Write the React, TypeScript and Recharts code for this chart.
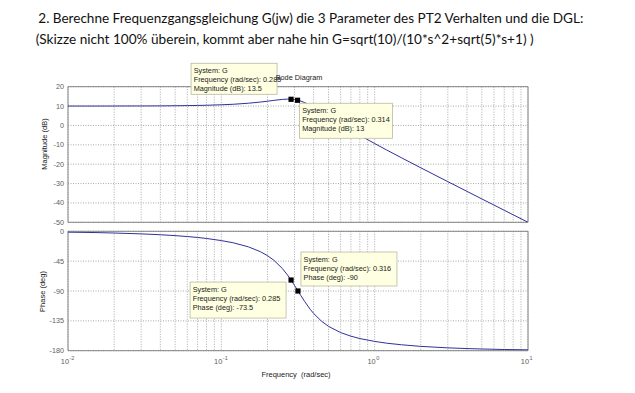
import React from 'react';
import {
  LineChart,
  Line,
  XAxis,
  YAxis,
  CartesianGrid,
  ReferenceArea,
  ReferenceDot,
} from 'recharts';

// ---- data ----
const titleLine1 =
  '2. Berechne Frequenzgangsgleichung G(jw) die 3 Parameter des PT2 Verhalten und die DGL:';
const titleLine2 =
  '(Skizze nicht 100% überein, kommt aber nahe hin G=sqrt(10)/(10*s^2+sqrt(5)*s+1) )';

const freqs = [
  0.01, 0.015, 0.02, 0.03, 0.04, 0.05, 0.06, 0.07, 0.08, 0.1, 0.12, 0.15, 0.18, 0.2, 0.22,
  0.25, 0.27, 0.285, 0.3, 0.314, 0.316, 0.33, 0.35, 0.38, 0.4, 0.45, 0.5, 0.6, 0.7, 0.8, 1,
  1.2, 1.5, 2, 3, 4, 5, 7, 10,
];
const magnitudeDb = [
  10.01, 10.01, 10.03, 10.06, 10.1, 10.16, 10.24, 10.32, 10.42, 10.66, 10.94, 11.47, 12.08,
  12.52, 12.94, 13.44, 13.59, 13.55, 13.37, 13.07, 13.02, 12.58, 11.78, 10.37, 9.36, 6.86,
  4.56, 0.68, -2.47, -5.1, -9.34, -12.71, -16.75, -21.88, -29.01, -34.04, -37.93, -43.79,
  -49.99,
];
const phaseDeg = [
  -1.3, -1.9, -2.6, -3.9, -5.2, -6.5, -7.9, -9.3, -10.8, -14.0, -17.4, -23.4, -30.8, -36.7,
  -43.6, -56.1, -65.8, -73.5, -81.5, -88.8, -90.0, -96.9, -106.0, -117.6, -123.9, -135.5,
  -143.3, -152.7, -158.1, -161.7, -166.0, -168.7, -171.1, -173.5, -175.7, -176.8, -177.4,
  -178.2, -178.7,
];

const majorFreqs = [0.01, 0.1, 1, 10];
const gridFreqs = [
  0.01, 0.02, 0.03, 0.04, 0.05, 0.06, 0.07, 0.08, 0.09, 0.1, 0.2, 0.3, 0.4, 0.5, 0.6, 0.7,
  0.8, 0.9, 1, 2, 3, 4, 5, 6, 7, 8, 9, 10,
];
const magTicks = [-50, -40, -30, -20, -10, 0, 10, 20];
const phaseTicks = [-180, -135, -90, -45, 0];

// data tips: frequency, value, text lines
const magTipFreqs = [0.285, 0.314];
const magTipValues = [13.5, 13];
const magTipTexts = [
  ['System: G', 'Frequency (rad/sec): 0.285', 'Magnitude (dB): 13.5'],
  ['System: G', 'Frequency (rad/sec): 0.314', 'Magnitude (dB): 13'],
];
const phaseTipFreqs = [0.285, 0.316];
const phaseTipValues = [-73.5, -90];
const phaseTipTexts = [
  ['System: G', 'Frequency (rad/sec): 0.285', 'Phase (deg): -73.5'],
  ['System: G', 'Frequency (rad/sec): 0.316', 'Phase (deg): -90'],
];

// box placement relative to marker (layout only)
const magTipBoxes = [
  { dx: -100, dy: -36, w: 86, h: 31 },
  { dx: 2, dy: 3, w: 93, h: 35 },
];
const phaseTipBoxes = [
  { dx: -101, dy: 2, w: 96, h: 36 },
  { dx: 3, dy: -39, w: 96, h: 34 },
];

const data = freqs.map((f, i) => ({ f, mag: magnitudeDb[i], phase: phaseDeg[i] }));

const SANS = 'Liberation Sans, Arial, sans-serif';
const LINE_COLOR = '#30309c';
const GRID_COLOR = '#a9a9a9';
const FRAME_COLOR = '#7a7a7a';
const TICK_COLOR = '#5e5e5e';

const YTick = (props: any) => {
  const { x, y, payload } = props;
  return (
    <text x={x} y={y} dy={2.5} textAnchor="end" fontSize={7.2} fill={TICK_COLOR} fontFamily={SANS}>
      {payload.value}
    </text>
  );
};

const EmptyTick = () => <g />;

const FreqTick = (props: any) => {
  const { x, y, payload } = props;
  const v = payload.value;
  if (!majorFreqs.some((m) => Math.abs(m - v) < 1e-9)) return <g />;
  const exp = Math.round(Math.log10(v));
  return (
    <g fontFamily={SANS} fill={TICK_COLOR}>
      <text x={x + 1} y={y + 13.5} textAnchor="end" fontSize={7.4}>
        10
      </text>
      <text x={x + 1.5} y={y + 9.5} textAnchor="start" fontSize={5.5}>
        {exp}
      </text>
    </g>
  );
};

const makeTip = (lines: string[], box: { dx: number; dy: number; w: number; h: number }) => (
  props: any
) => {
  const { cx, cy } = props;
  const bx = cx + box.dx;
  const by = cy + box.dy;
  return (
    <g>
      <rect x={bx} y={by} width={box.w} height={box.h} fill="#ffffe1" stroke="#b9b9a0" strokeWidth={0.8} />
      {lines.map((t, i) => (
        <text
          key={i}
          x={bx + 2.6}
          y={by + 9.6 + i * 9.3}
          fontSize={7.3}
          fill="#222"
          fontFamily={SANS}
        >
          {t}
        </text>
      ))}
      <rect x={cx - 2.6} y={cy - 2.6} width={5.2} height={5.2} fill="#000" />
    </g>
  );
};

export default function App() {
  return (
    <div
      style={{
        position: 'absolute',
        left: 0,
        top: 0,
        width: 635,
        height: 393,
        background: '#fff',
        overflow: 'hidden',
      }}
    >
      <svg width={635} height={60} style={{ position: 'absolute', left: 0, top: 0 }}>
        <text
          x={38.3}
          y={22.7}
          fontSize={13.5}
          fontFamily="Lato, 'Open Sans', sans-serif"
          fill="#111"
          textLength={545}
          lengthAdjust="spacingAndGlyphs"
        >
          {titleLine1}
        </text>
        <text
          x={35.7}
          y={44.3}
          fontSize={13.5}
          fontFamily="Lato, 'Open Sans', sans-serif"
          fill="#111"
          textLength={498}
          lengthAdjust="spacingAndGlyphs"
        >
          {titleLine2}
        </text>
      </svg>

      <div style={{ position: 'absolute', left: 0, top: 0 }}>
        <LineChart
          width={635}
          height={232}
          data={data}
          margin={{ top: 86.7, right: 107, bottom: 9.7, left: 38 }}
        >
          <CartesianGrid stroke={GRID_COLOR} strokeDasharray="1 1.5" />
          <XAxis
            dataKey="f"
            type="number"
            scale="log"
            domain={[0.01, 10]}
            ticks={gridFreqs}
            interval={0}
            allowDataOverflow
            height={0}
            axisLine={false}
            tickLine={false}
            tick={<EmptyTick />}
          />
          <YAxis
            type="number"
            domain={[-50, 20]}
            ticks={magTicks}
            interval={0}
            allowDataOverflow
            width={30}
            axisLine={false}
            tickLine={false}
            tickSize={2}
            tickMargin={2}
            tick={<YTick />}
          />
          <ReferenceArea
            x1={0.01}
            x2={10}
            y1={-50}
            y2={20}
            fill="none"
            stroke={FRAME_COLOR}
            strokeWidth={0.9}
          />
          <Line
            dataKey="mag"
            stroke={LINE_COLOR}
            strokeWidth={1}
            dot={false}
            isAnimationActive={false}
            type="linear"
          />
          {magTipFreqs.map((f, i) => (
            <ReferenceDot
              key={i}
              x={f}
              y={magTipValues[i]}
              r={3}
              shape={makeTip(magTipTexts[i], magTipBoxes[i])}
            />
          ))}
        </LineChart>
      </div>

      <div style={{ position: 'absolute', left: 0, top: 225 }}>
        <LineChart
          width={635}
          height={168}
          data={data}
          margin={{ top: 6.3, right: 107, bottom: 17.3, left: 38 }}
        >
          <CartesianGrid stroke={GRID_COLOR} strokeDasharray="1 1.5" />
          <XAxis
            dataKey="f"
            type="number"
            scale="log"
            domain={[0.01, 10]}
            ticks={gridFreqs}
            interval={0}
            allowDataOverflow
            height={25}
            axisLine={false}
            tickLine={false}
            tickSize={0}
            tickMargin={0}
            tick={<FreqTick />}
          />
          <YAxis
            type="number"
            domain={[-180, 0]}
            ticks={phaseTicks}
            interval={0}
            allowDataOverflow
            width={30}
            axisLine={false}
            tickLine={false}
            tickSize={2}
            tickMargin={2}
            tick={<YTick />}
          />
          <ReferenceArea
            x1={0.01}
            x2={10}
            y1={-180}
            y2={0}
            fill="none"
            stroke={FRAME_COLOR}
            strokeWidth={0.9}
          />
          <Line
            dataKey="phase"
            stroke={LINE_COLOR}
            strokeWidth={1}
            dot={false}
            isAnimationActive={false}
            type="linear"
          />
          {phaseTipFreqs.map((f, i) => (
            <ReferenceDot
              key={i}
              x={f}
              y={phaseTipValues[i]}
              r={3}
              shape={makeTip(phaseTipTexts[i], phaseTipBoxes[i])}
            />
          ))}
        </LineChart>
      </div>

      <svg
        width={635}
        height={393}
        style={{ position: 'absolute', left: 0, top: 0, pointerEvents: 'none' }}
      >
        <text x={299} y={80} textAnchor="middle" fontSize={7.3} fill="#222" fontFamily={SANS}>
          Bode Diagram
        </text>
        <text
          x={296}
          y={376.5}
          textAnchor="middle"
          fontSize={7.5}
          fill="#222"
          fontFamily={SANS}
          style={{ whiteSpace: 'pre' }}
        >
          {'Frequency  (rad/sec)'}
        </text>
        <text
          transform="translate(46.5,144) rotate(-90)"
          textAnchor="middle"
          fontSize={7.5}
          fill="#222"
          fontFamily={SANS}
        >
          Magnitude (dB)
        </text>
        <text
          transform="translate(44.5,291.5) rotate(-90)"
          textAnchor="middle"
          fontSize={7.5}
          fill="#222"
          fontFamily={SANS}
        >
          Phase (deg)
        </text>
      </svg>
    </div>
  );
}
